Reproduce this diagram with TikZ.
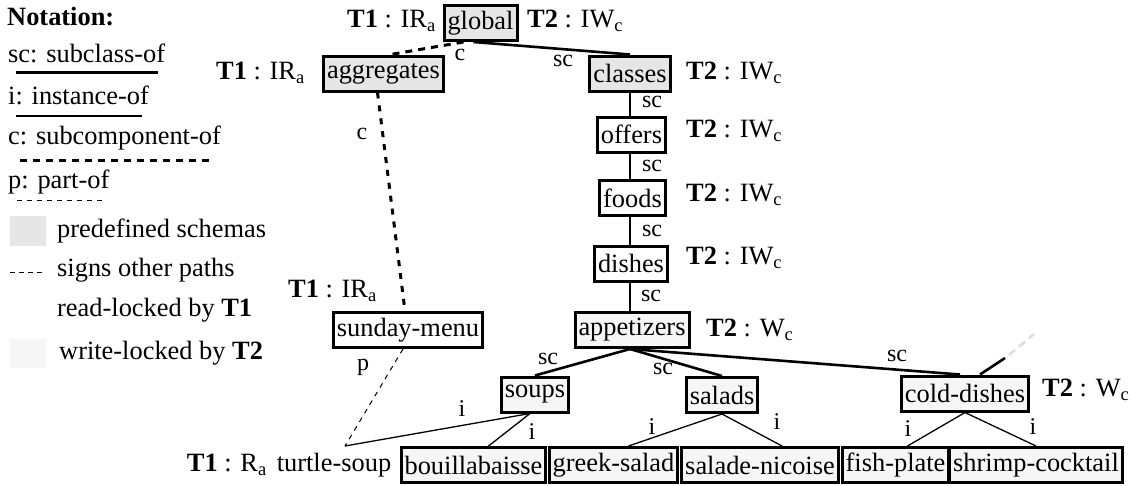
\documentclass[tikz,border=0pt]{standalone}
\usepackage{fontspec}
\setmainfont{Liberation Serif}
\usetikzlibrary{calc}
\definecolor{preGray}{HTML}{E6E6E6}
\definecolor{wlGray}{HTML}{F6F6F6}
\definecolor{otherGray}{HTML}{DDDDDD}
\newcommand\mainsz{\fontsize{26.4}{30}\selectfont}
\newcommand\labsz{\fontsize{24}{28}\selectfont}
\tikzset{
  box/.style={draw, line width=3pt, inner xsep=3.5pt, inner ysep=0pt, minimum height=35pt, font=\mainsz},
  prebox/.style={box, fill=preGray},
  wlbox/.style={box, fill=wlGray},
  plainbox/.style={box, fill=white},
  txt/.style={font=\mainsz, inner sep=0pt},
  lab/.style={font=\labsz, inner sep=0pt},
  sclink/.style={line width=2.6pt},
  ilink/.style={line width=1.3pt},
  clink/.style={line width=3pt, dash pattern=on 7pt off 6pt},
  plink/.style={line width=1pt, dash pattern=on 5pt off 5pt},
}
\begin{document}
\begin{tikzpicture}[x=1pt,y=-1pt]
\useasboundingbox (0,0) rectangle (1131,485);
% ---------- legend ----------
\node[txt, anchor=west] (nt) at (7,17) {\textbf{Notation:}};
\node[txt, anchor=west] (lsc) at (8,53) {sc: subclass-of};
\coordinate (lsca) at (16,72); \coordinate (lscb) at (158,72);
\draw[line width=3pt] (lsca) -- (lscb);
\node[txt, anchor=west] (li) at (8,95) {i: instance-of};
\coordinate (lia) at (16,116); \coordinate (lib) at (142,116);
\draw[line width=1.6pt] (lia) -- (lib);
\node[txt, anchor=west] (lc) at (8,138) {c: subcomponent-of};
\coordinate (lca) at (20,160); \coordinate (lcb) at (212,160);
\draw[clink] (lca) -- (lcb);
\node[txt, anchor=west] (lp) at (8,182) {p: part-of};
\coordinate (lpa) at (17,200); \coordinate (lpb) at (102,200);
\draw[plink] (lpa) -- (lpb);
\node[fill=preGray, minimum width=36pt, minimum height=30pt, inner sep=0pt] (sqpre) at (28,231) {};
\node[txt, anchor=west] (lpre) at (57,231) {predefined schemas};
\coordinate (loa) at (10,272); \coordinate (lob) at (44,272);
\draw[line width=1pt, dash pattern=on 5pt off 4pt] (loa) -- (lob);
\node[txt, anchor=west] (lo1) at (57,270) {signs other paths};
\node[txt, anchor=west] (lo2) at (57,310) {read-locked by \textbf{T1}};
\node[fill=wlGray, minimum width=36pt, minimum height=29pt, inner sep=0pt] (sqwl) at (28,353) {};
\node[txt, anchor=west] (lwl) at (59,353) {write-locked by \textbf{T2}};
% ---------- schema nodes ----------
\node[prebox] (global) at (480.5,23) {global};
\node[prebox] (aggr) at (383.5,73.5) {aggregates};
\node[prebox] (classes) at (630,73.5) {classes};
\node[plainbox] (offers) at (631.5,134.5) {offers};
\node[plainbox] (foods) at (632.5,198) {foods};
\node[plainbox] (dishes) at (631,263.5) {dishes};
\node[wlbox] (appet) at (632,330) {appetizers};
\node[plainbox] (sunday) at (408,330) {sunday-menu};
\node[wlbox] (soups) at (535,394.5) {soups};
\node[wlbox] (salads) at (722,395) {salads};
\node[wlbox] (cold) at (965,393.5) {cold-dishes};
\node[wlbox] (bouil) at (473.5,465) {bouillabaisse};
\node[wlbox] (greek) at (613.5,465) {greek-salad};
\node[wlbox] (nicoise) at (760,465) {salade-nicoise};
\node[wlbox] (fish) at (895.5,465) {fish-plate};
\node[wlbox] (shrimp) at (1036,465) {shrimp-cocktail};
\node[txt] (ts) at (334,465) {turtle-soup};
\coordinate (tstop) at (345,446);
% ---------- lock labels ----------
\node[txt, anchor=east] (gl1) at (436,21) {\textbf{T1} : IR\textsubscript{a}};
\node[txt, anchor=west] (gl2) at (527,21) {\textbf{T2} : IW\textsubscript{c}};
\node[txt, anchor=east] (al1) at (305,73) {\textbf{T1} : IR\textsubscript{a}};
\node[txt, anchor=west] (cl2) at (686,73) {\textbf{T2} : IW\textsubscript{c}};
\node[txt, anchor=west] (ol2) at (686,131) {\textbf{T2} : IW\textsubscript{c}};
\node[txt, anchor=west] (fl2) at (686,195) {\textbf{T2} : IW\textsubscript{c}};
\node[txt, anchor=west] (dl2) at (686,258) {\textbf{T2} : IW\textsubscript{c}};
\node[txt, anchor=west] (apl2) at (706,330) {\textbf{T2} : W\textsubscript{c}};
\node[txt, anchor=east] (sml1) at (377,291) {\textbf{T1} : IR\textsubscript{a}};
\node[txt, anchor=west] (cdl2) at (1042,390) {\textbf{T2} : W\textsubscript{c}};
\node[txt, anchor=east] (tsl1) at (267,465) {\textbf{T1} : R\textsubscript{a}};
% ---------- connectors ----------
\draw[clink] ($(global.south)+(-17,0)$) -- ($(aggr.north)+(7,0)$);
\draw[sclink] ($(global.south)+(-7,0)$) -- (classes.north);
\draw[line width=3pt, dash pattern=on 6pt off 7pt] ($(aggr.south)+(-6,0)$) -- ($(sunday.north)+(-3,0)$);
\draw[sclink] (classes.south) -- (classes.south |- offers.north);
\draw[sclink] (classes.south |- offers.south) -- (classes.south |- foods.north);
\draw[sclink] (classes.south |- foods.south) -- (classes.south |- dishes.north);
\draw[sclink] (classes.south |- dishes.south) -- (classes.south |- appet.north);
\draw[sclink] ($(appet.south)+(-2,0)$) -- (soups.north);
\draw[sclink] ($(appet.south)+(-2,0)$) -- (salads.north);
\draw[sclink] ($(appet.south)+(-2,0)$) -- ($(cold.north)+(-5,0)$);
\coordinate (oth1) at (1005,358);
\coordinate (oth2) at (1009,355);
\coordinate (oth3) at (1034,334);
\draw[sclink] ($(cold.north)+(15,0)$) -- (oth1);
\draw[line width=2.6pt, otherGray, dash pattern=on 8pt off 5pt] (oth2) -- (oth3);
\draw[plink] ($(sunday.south)+(-5,0)$) -- (tstop);
\draw[ilink] ($(soups.south)+(-5,0)$) -- (tstop);
\draw[ilink] ($(soups.south)+(-5,0)$) -- ($(bouil.north)+(15,0)$);
\draw[ilink] (salads.south) -- ($(greek.north)+(15,0)$);
\draw[ilink] (salads.south) -- ($(nicoise.north)+(22,0)$);
\draw[ilink] (cold.south) -- ($(fish.north)+(12,0)$);
\draw[ilink] (cold.south) -- (shrimp.north);
% ---------- edge labels ----------
\node[lab] (e1) at (460,55) {c};
\node[lab] (e2) at (563,61) {sc};
\node[lab] (e3) at (362,134) {c};
\node[lab] (e4) at (652,102) {sc};
\node[lab] (e5) at (652,166) {sc};
\node[lab] (e6) at (652,231) {sc};
\node[lab] (e7) at (651,296) {sc};
\node[lab] (e8) at (548,359) {sc};
\node[lab] (e9) at (663,369) {sc};
\node[lab] (e10) at (897,356) {sc};
\node[lab] (e11) at (363,367) {p};
\node[lab] (e12) at (462,409) {i};
\node[lab] (e13) at (532,432) {i};
\node[lab] (e14) at (652,427) {i};
\node[lab] (e15) at (777,422) {i};
\node[lab] (e16) at (908,429) {i};
\node[lab] (e17) at (1033,427) {i};
\end{tikzpicture}
\end{document}
